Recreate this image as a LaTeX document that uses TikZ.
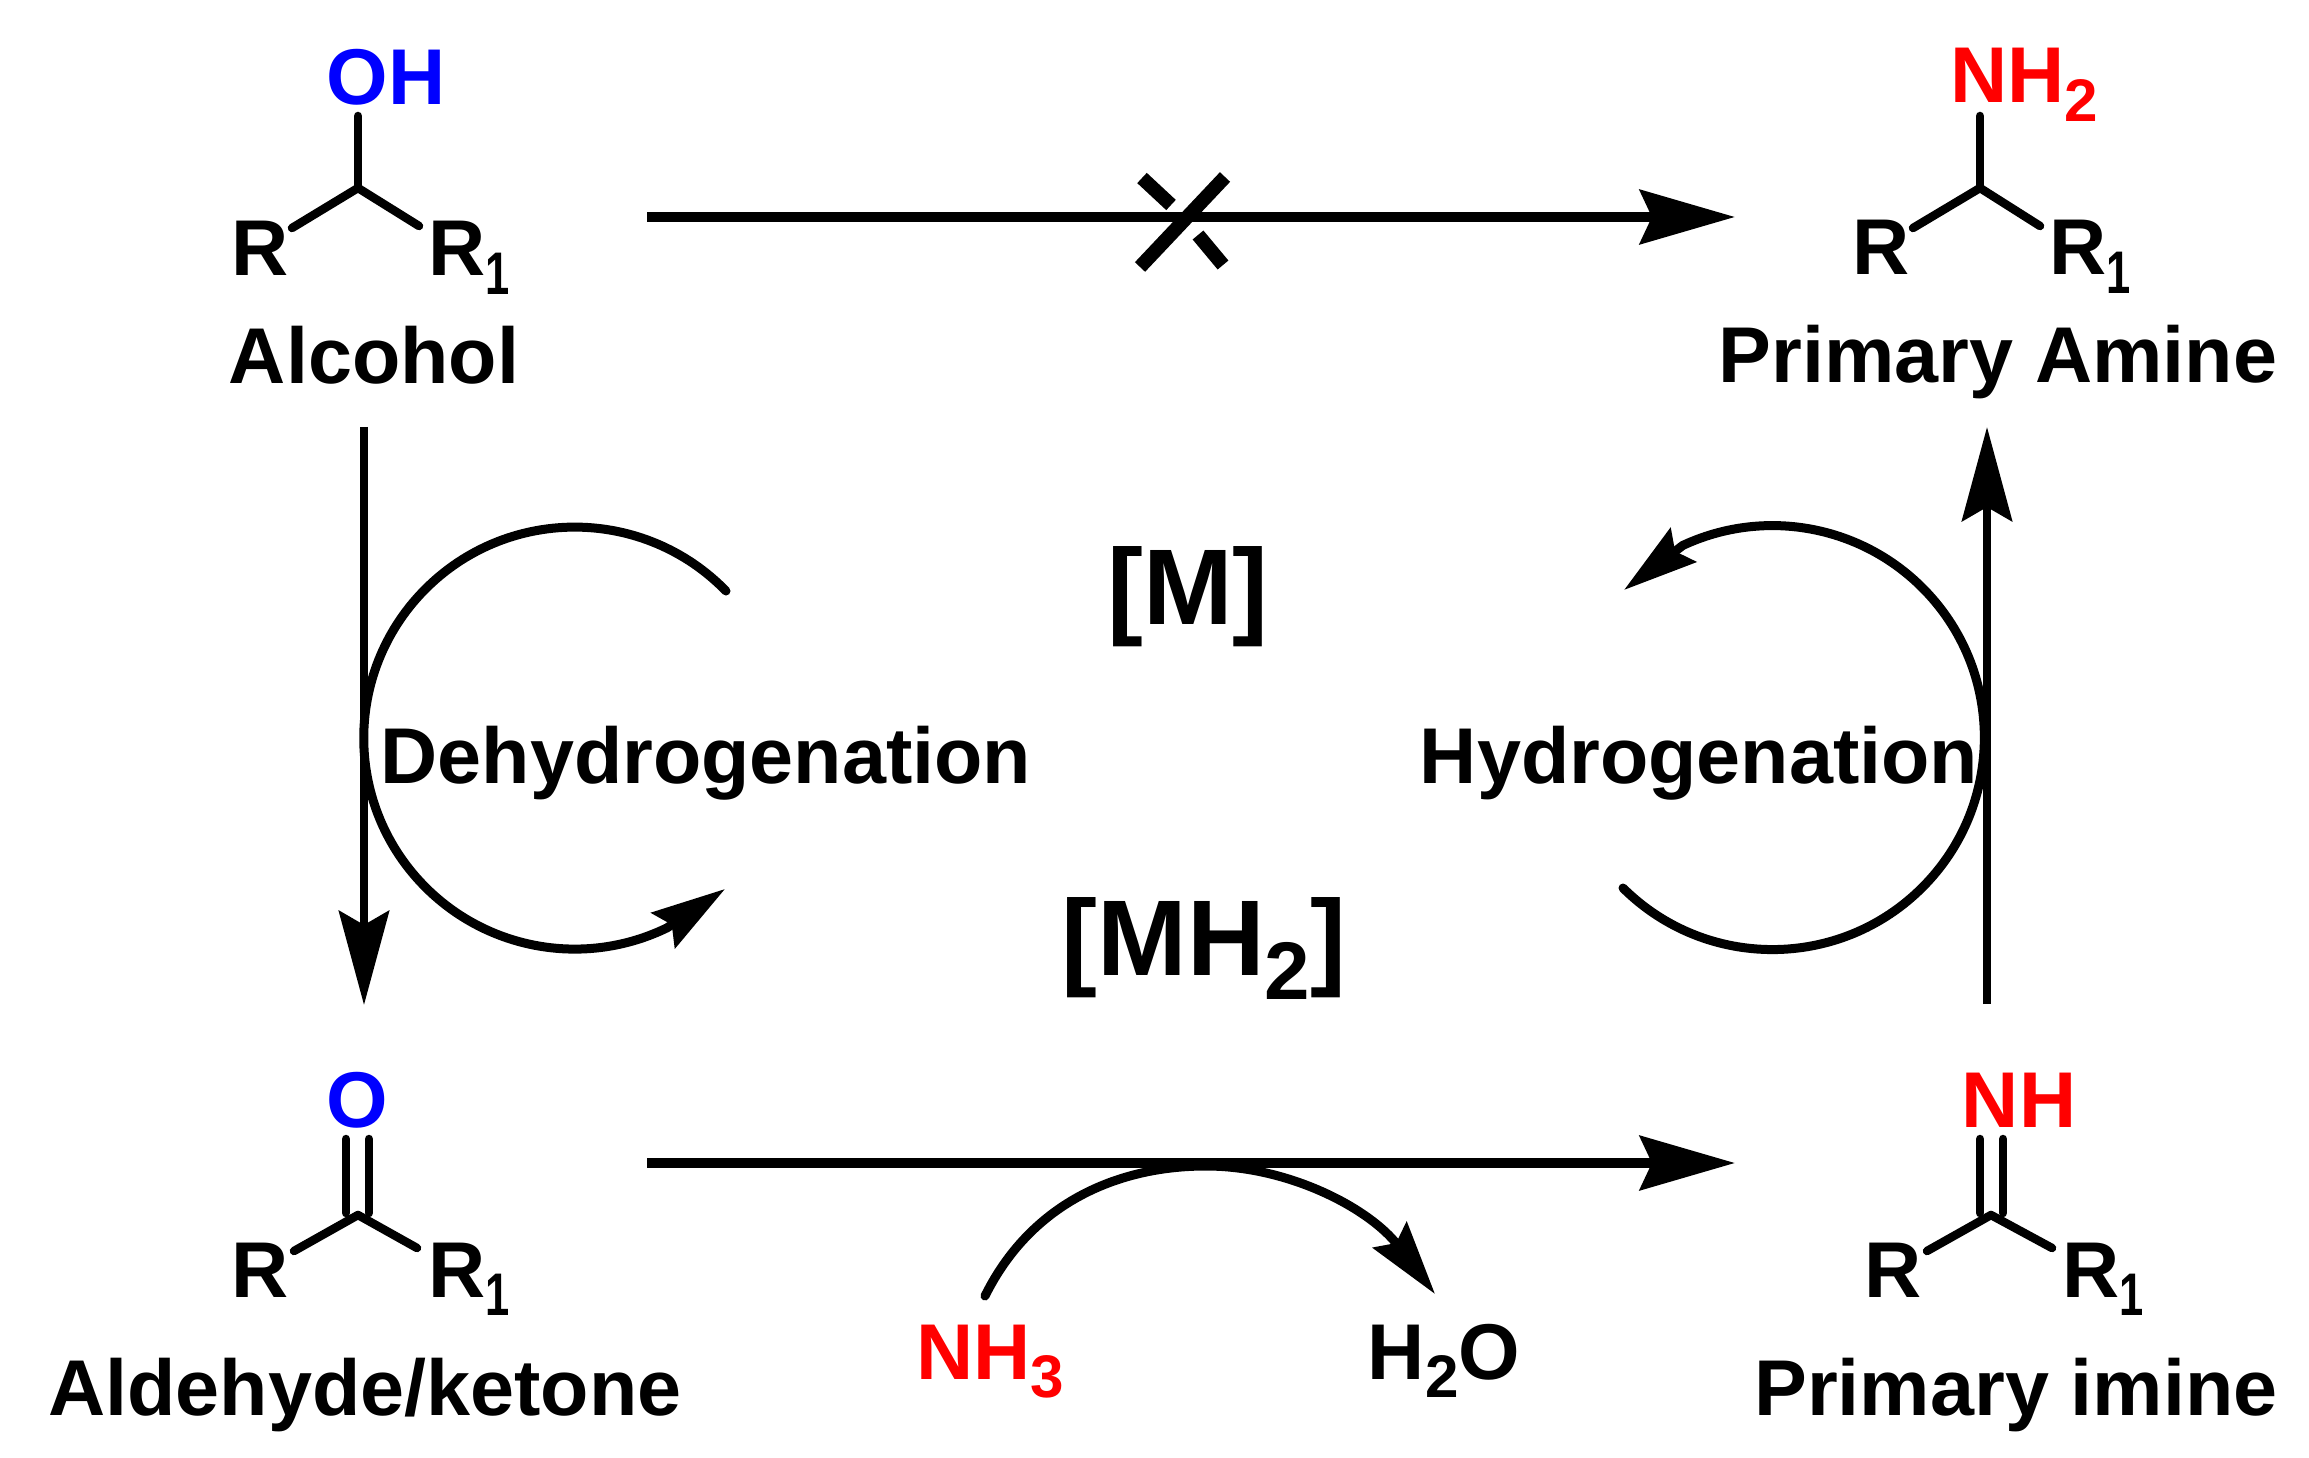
\documentclass[tikz,border=0pt]{standalone}
\usepackage{fontspec}
\usepackage{graphicx}
\setmainfont{Liberation Sans}
\usetikzlibrary{arrows.meta}
\newcommand{\lowsub}[1]{\raisebox{-0.23em}{\scalebox{0.76}{#1}}}
\newcommand{\onesub}{\raisebox{-0.23em}{\scalebox{0.55}[0.76]{1}}}
\tikzset{
	lbl/.style={inner sep=0pt,anchor=base,font=\fontsize{22.5pt}{27pt}\bfseries\selectfont},
	lblr/.style={lbl,anchor=base west},
	metal/.style={lbl,font=\fontsize{30.6pt}{36pt}\bfseries\selectfont},
	bond/.style={line width=0.085cm,line cap=round,line join=round},
	rxn/.style={line width=0.1cm,-{Stealth[length=0.95cm,width=0.54cm,inset=0.12cm]}},
	rxnv/.style={line width=0.085cm,-{Stealth[length=0.94cm,width=0.5cm,inset=0.14cm]}},
	turn/.style={line width=0.09cm,line cap=round,-{Stealth[length=0.74cm,width=0.42cm,inset=0.10cm]}},
	nope/.style={line width=0.14cm}
}
\begin{document}
\begin{tikzpicture}[x=0.01cm,y=-0.01cm]
	\useasboundingbox (0,0) rectangle (2309,1458);
	% skeleton points
	\coordinate (A) at (358,188);
	\coordinate (A1) at (358,116);
	\coordinate (A2) at (292,228);
	\coordinate (A3) at (419,226);
	\coordinate (B) at (1980,188);
	\coordinate (B1) at (1980,116);
	\coordinate (B2) at (1913,228);
	\coordinate (B3) at (2040,226);
	\coordinate (C) at (358,1215);
	\coordinate (C1) at (346,1139);
	\coordinate (C2) at (369,1139);
	\coordinate (C3) at (294,1251);
	\coordinate (C4) at (417,1248);
	\coordinate (C5) at (346,1213);
	\coordinate (C6) at (369,1213);
	\coordinate (D) at (1991,1215);
	\coordinate (D1) at (1980,1139);
	\coordinate (D2) at (2003,1139);
	\coordinate (D3) at (1927,1251);
	\coordinate (D4) at (2052,1248);
	\coordinate (D5) at (1980,1213);
	\coordinate (D6) at (2003,1213);
	% arrow ends
	\coordinate (T1) at (647,217);
	\coordinate (T2) at (1735,217);
	\coordinate (U1) at (647,1163);
	\coordinate (U2) at (1735,1163);
	\coordinate (L1) at (364,427);
	\coordinate (L2) at (364,1005);
	\coordinate (M1) at (1987,1004);
	\coordinate (M2) at (1987,427);
	\coordinate (DhS) at (726,591);
	\coordinate (DhT) at (725,889);
	\coordinate (HyS) at (1623,888);
	\coordinate (HyT) at (1624,590);
	\coordinate (AmS) at (985,1296);
	\coordinate (AmM) at (1206,1166);
	\coordinate (AmT) at (1435,1294);
	% bonds
	\draw[bond] (A1) to (A);
	\draw[bond] (A2) to (A) to (A3);
	\draw[bond] (B1) to (B);
	\draw[bond] (B2) to (B) to (B3);
	\draw[bond] (C1) to (C5);
	\draw[bond] (C2) to (C6);
	\draw[bond] (C3) to (C) to (C4);
	\draw[bond] (D1) to (D5);
	\draw[bond] (D2) to (D6);
	\draw[bond] (D3) to (D) to (D4);
	% arrows
	\draw[rxn] (T1) to (T2);
	\draw[rxn] (U1) to (U2);
	\draw[rxnv] (L1) to (L2);
	\draw[rxnv] (M1) to (M2);
	\draw[nope] (1140,267) to (1225,177);
	\draw[nope] (1142,178) to (1171,205);
	\draw[nope] (1198,235) to (1223,265);
	\draw[turn] (DhS) arc (315.8:64:211) -- (DhT);
	\draw[turn] (HyS) arc (134.8:-115:212) -- (HyT);
	\draw[turn] (AmS) .. controls (1030,1205) and (1115,1166) .. (AmM) .. controls (1290,1166) and (1370,1209) .. (AmT);
	% labels
	\node[lbl,blue] (oh) at (386,105) {OH};
	\node[lbl] (r1) at (260,276) {R};
	\node[lblr] (s1) at (427.5,276) {R\onesub};
	\node[lbl] (alcohol) at (374,384) {Alcohol};
	\node[lbl,red] (nhtwo) at (2024,103) {NH\lowsub{2}};
	\node[lbl] (r2) at (1881,275) {R};
	\node[lblr] (s2) at (2048.5,275) {R\onesub};
	\node[lbl] (amine) at (1998,383) {Primary Amine};
	\node[lbl,blue] (o) at (357,1127) {O};
	\node[lbl] (r3) at (260,1297) {R};
	\node[lblr] (s3) at (427.5,1297) {R\onesub};
	\node[lbl] (ketone) at (365,1415) {Aldehyde/ketone};
	\node[lbl,red] (nh) at (2019,1127) {NH};
	\node[lbl] (r4) at (1893,1297) {R};
	\node[lblr] (s4) at (2061.5,1297) {R\onesub};
	\node[lbl] (imine) at (2016,1415) {Primary imine};
	\node[lbl,red] (nhthree) at (990,1379) {NH\lowsub{3}};
	\node[lbl] (water) at (1444,1379) {H\lowsub{2}O};
	\node[lbl] (dehyd) at (706,783) {Dehydrogenation};
	\node[lbl] (hyd) at (1699,783) {Hydrogenation};
	\node[metal] (m) at (1188,624) {[M]};
	\node[metal] (mh) at (1204,975) {[MH\lowsub{2}]};
\end{tikzpicture}
\end{document}
